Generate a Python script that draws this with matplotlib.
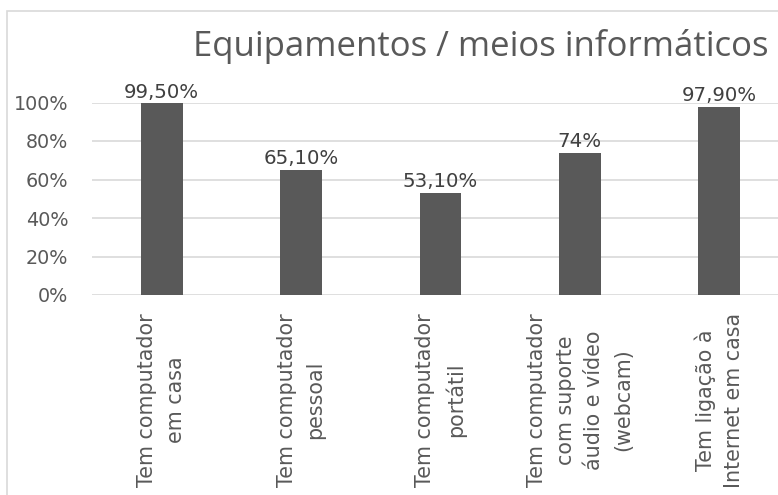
import matplotlib.pyplot as plt
from matplotlib.patches import Rectangle

categories = ["Tem computador\nem casa", "Tem computador\npessoal", "Tem computador\nportátil",
              "Tem computador\ncom suporte\náudio e vídeo\n(webcam)", "Tem ligação à\nInternet em casa"]
values = [0.995, 0.651, 0.531, 0.74, 0.979]
value_labels = ["99,50%", "65,10%", "53,10%", "74%", "97,90%"]
yticks = [0, 0.2, 0.4, 0.6, 0.8, 1.0]
ytick_labels = ["0%", "20%", "40%", "60%", "80%", "100%"]

plt.rcParams['font.family'] = ['DejaVu Sans']
W, H = 778, 495
fig = plt.figure(figsize=(W / 100, H / 100), dpi=100)

# outer chart frame (cropped on the right and bottom)
fig.patches.append(Rectangle((7 / W, -0.1), 1.2, 1 - 11 / H + 0.1, transform=fig.transFigure,
                             fill=False, edgecolor="#d9d9d9", lw=1.2))

ax = fig.add_axes([92 / W, (H - 295) / H, 697 / W, 192.5 / H])
x = range(len(values))
ax.bar(x, values, width=0.3, color="#595959", zorder=3)
ax.set_xlim(-0.5, len(values) - 0.5)
ax.set_ylim(0, 1)
ax.set_yticks(yticks)
ax.set_yticklabels(ytick_labels)
ax.set_xticks(list(x))
ax.set_xticklabels(categories, rotation=90, ha="center", va="top", multialignment="center",
                   linespacing=1.55)
ax.tick_params(axis="y", length=0, pad=17, labelsize=13.8, labelcolor="#595959")
ax.tick_params(axis="x", length=0, pad=13, labelsize=14.9, labelcolor="#595959")
for s in ax.spines.values():
    s.set_visible(False)
ax.grid(axis="y", color="#d9d9d9", lw=1.2, zorder=0)
ax.set_axisbelow(True)
for xi, v, lab in zip(x, values, value_labels):
    ax.annotate(lab, (xi, v), xytext=(0, 1), textcoords="offset points",
                ha="center", va="bottom", fontsize=14.2, color="#404040", zorder=4)

fig.text(481 / W, 1 - 56 / H, "Equipamentos / meios informáticos", ha="center", va="baseline",
         fontsize=25, color="#595959", family="Open Sans")

fig.savefig("out.png", dpi=100)
